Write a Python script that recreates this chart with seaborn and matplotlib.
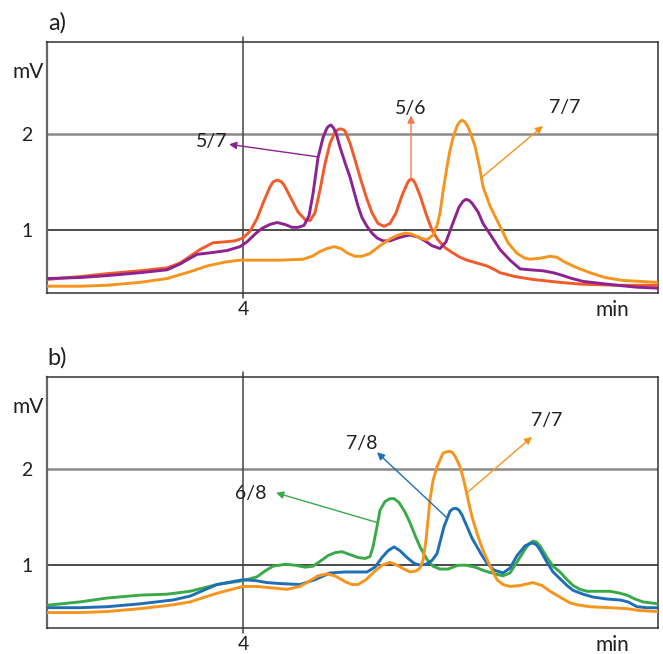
import matplotlib
matplotlib.use("Agg")
import matplotlib.pyplot as plt
import pandas as pd
import seaborn as sns

# ---- panel a) ----
t_56 = [2.04, 2.37, 2.64, 2.97, 3.24, 3.37, 3.47, 3.57, 3.70, 3.82, 3.92, 4.00, 4.07, 4.14, 4.20,
        4.27, 4.30, 4.34, 4.38, 4.41, 4.48, 4.55, 4.62, 4.67, 4.72, 4.77, 4.82, 4.87, 4.92, 4.945,
        4.97, 4.995, 5.02, 5.07, 5.12, 5.17, 5.23, 5.29, 5.35, 5.41, 5.47, 5.53, 5.59, 5.64, 5.66,
        5.68, 5.70, 5.72, 5.77, 5.83, 5.89, 5.95, 6.02, 6.09, 6.17, 6.24, 6.34, 6.44, 6.52, 6.57,
        6.72, 6.90, 7.17, 7.40, 7.77, 8.15]
mv_56 = [0.49, 0.52, 0.55, 0.58, 0.61, 0.66, 0.73, 0.80, 0.87, 0.88, 0.89, 0.92, 0.99, 1.12, 1.28,
         1.45, 1.50, 1.52, 1.505, 1.47, 1.33, 1.19, 1.11, 1.10, 1.18, 1.42, 1.69, 1.90, 2.02, 2.04,
         2.05, 2.045, 2.03, 1.90, 1.73, 1.55, 1.35, 1.18, 1.07, 1.04, 1.07, 1.18, 1.36, 1.48, 1.515,
         1.53, 1.52, 1.49, 1.36, 1.17, 1.00, 0.90, 0.82, 0.77, 0.72, 0.69, 0.66, 0.63, 0.59, 0.56,
         0.52, 0.49, 0.46, 0.44, 0.43, 0.43]

t_57 = [2.04, 2.37, 2.64, 2.97, 3.24, 3.37, 3.47, 3.54, 3.70, 3.84, 3.97, 4.04, 4.12, 4.19, 4.27,
        4.34, 4.42, 4.49, 4.55, 4.61, 4.66, 4.70, 4.75, 4.80, 4.84, 4.86, 4.88, 4.905, 4.93, 4.97,
        5.02, 5.07, 5.11, 5.15, 5.19, 5.24, 5.29, 5.34, 5.40, 5.47, 5.55, 5.62, 5.67, 5.75, 5.82,
        5.89, 5.97, 6.03, 6.09, 6.16, 6.20, 6.23, 6.26, 6.29, 6.35, 6.40, 6.47, 6.57, 6.67, 6.77,
        6.87, 7.00, 7.10, 7.17, 7.29, 7.40, 7.57, 7.74, 7.94, 8.15]
mv_57 = [0.50, 0.51, 0.53, 0.56, 0.59, 0.65, 0.71, 0.75, 0.77, 0.79, 0.83, 0.88, 0.96, 1.02, 1.06,
         1.08, 1.06, 1.03, 1.03, 1.05, 1.15, 1.38, 1.75, 1.96, 2.06, 2.08, 2.09, 2.06, 2.01, 1.86,
         1.70, 1.55, 1.40, 1.25, 1.13, 1.04, 0.97, 0.92, 0.89, 0.89, 0.92, 0.94, 0.95, 0.93, 0.89,
         0.84, 0.81, 0.88, 1.05, 1.24, 1.30, 1.32, 1.31, 1.28, 1.19, 1.07, 0.96, 0.80, 0.69, 0.60,
         0.59, 0.58, 0.56, 0.54, 0.50, 0.47, 0.45, 0.43, 0.41, 0.40]

t_77a = [2.04, 2.37, 2.64, 2.97, 3.24, 3.47, 3.64, 3.82, 3.97, 4.17, 4.37, 4.60, 4.69, 4.77, 4.84,
         4.91, 4.98, 5.05, 5.12, 5.19, 5.27, 5.37, 5.47, 5.55, 5.62, 5.69, 5.77, 5.84, 5.90, 5.94,
         5.97, 6.00, 6.04, 6.07, 6.10, 6.14, 6.165, 6.19, 6.22, 6.245, 6.27, 6.32, 6.37, 6.40, 6.47,
         6.57, 6.65, 6.74, 6.82, 6.87, 6.97, 7.07, 7.14, 7.20, 7.32, 7.47, 7.62, 7.80, 7.97, 8.15]
mv_77a = [0.42, 0.42, 0.43, 0.46, 0.50, 0.57, 0.63, 0.67, 0.69, 0.69, 0.69, 0.70, 0.73, 0.78, 0.81,
          0.83, 0.81, 0.76, 0.73, 0.73, 0.76, 0.84, 0.91, 0.95, 0.97, 0.96, 0.92, 0.90, 0.95, 1.05,
          1.18, 1.40, 1.66, 1.83, 1.96, 2.08, 2.12, 2.14, 2.12, 2.08, 2.02, 1.87, 1.63, 1.45, 1.25,
          1.04, 0.87, 0.76, 0.71, 0.70, 0.71, 0.73, 0.72, 0.68, 0.62, 0.56, 0.51, 0.48, 0.47, 0.46]

# ---- panel b) ----
t_68 = [2.04, 2.37, 2.64, 2.97, 3.24, 3.47, 3.74, 4.00, 4.14, 4.22, 4.30, 4.42, 4.52, 4.62, 4.70,
        4.77, 4.85, 4.92, 4.99, 5.07, 5.15, 5.22, 5.27, 5.30, 5.34, 5.37, 5.42, 5.47, 5.51, 5.56,
        5.62, 5.67, 5.72, 5.77, 5.84, 5.90, 5.97, 6.05, 6.15, 6.23, 6.32, 6.42, 6.52, 6.60, 6.67,
        6.75, 6.83, 6.865, 6.90, 6.935, 6.97, 7.04, 7.10, 7.17, 7.24, 7.30, 7.37, 7.44, 7.57, 7.67,
        7.77, 7.84, 7.92, 8.00, 8.15]
mv_68 = [0.585, 0.62, 0.66, 0.69, 0.70, 0.73, 0.80, 0.84, 0.88, 0.94, 0.99, 1.01, 1.00, 0.98, 0.99,
         1.04, 1.10, 1.13, 1.14, 1.11, 1.08, 1.07, 1.09, 1.19, 1.40, 1.57, 1.66, 1.69, 1.69, 1.65,
         1.55, 1.44, 1.31, 1.19, 1.06, 0.99, 0.96, 0.96, 1.00, 1.00, 0.98, 0.94, 0.91, 0.89, 0.92,
         1.05, 1.18, 1.225, 1.25, 1.24, 1.20, 1.08, 0.99, 0.93, 0.85, 0.79, 0.75, 0.73, 0.73, 0.73,
         0.71, 0.69, 0.65, 0.62, 0.60]

t_78 = [2.04, 2.37, 2.64, 2.97, 3.30, 3.47, 3.74, 4.00, 4.13, 4.24, 4.37, 4.57, 4.72, 4.87, 5.02,
        5.17, 5.24, 5.32, 5.39, 5.45, 5.51, 5.57, 5.64, 5.71, 5.77, 5.83, 5.89, 5.94, 6.01, 6.07,
        6.10, 6.13, 6.16, 6.19, 6.24, 6.29, 6.34, 6.39, 6.44, 6.51, 6.60, 6.67, 6.74, 6.82, 6.86,
        6.90, 6.935, 6.97, 7.04, 7.10, 7.17, 7.24, 7.30, 7.40, 7.50, 7.64, 7.77, 7.85, 7.94, 8.04,
        8.15]
mv_78 = [0.56, 0.56, 0.57, 0.60, 0.64, 0.68, 0.80, 0.85, 0.84, 0.82, 0.81, 0.80, 0.85, 0.92, 0.93,
         0.93, 0.93, 0.98, 1.08, 1.15, 1.19, 1.15, 1.08, 1.02, 1.00, 1.01, 1.05, 1.12, 1.40, 1.56,
         1.585, 1.59, 1.57, 1.52, 1.40, 1.28, 1.19, 1.10, 1.02, 0.95, 0.92, 0.97, 1.10, 1.20, 1.22,
         1.23, 1.21, 1.16, 1.03, 0.93, 0.86, 0.79, 0.74, 0.70, 0.67, 0.65, 0.64, 0.62, 0.57, 0.56,
         0.56]

t_77b = [2.04, 2.37, 2.64, 2.97, 3.30, 3.47, 3.74, 4.00, 4.13, 4.24, 4.44, 4.57, 4.67, 4.75, 4.84,
         4.92, 5.02, 5.09, 5.15, 5.23, 5.31, 5.39, 5.47, 5.54, 5.61, 5.67, 5.73, 5.77, 5.80, 5.83,
         5.87, 5.90, 5.94, 6.00, 6.035, 6.07, 6.095, 6.12, 6.17, 6.21, 6.25, 6.29, 6.34, 6.39, 6.44,
         6.49, 6.54, 6.60, 6.67, 6.77, 6.90, 6.99, 7.07, 7.17, 7.27, 7.34, 7.47, 7.67, 7.84, 7.97,
         8.15]
mv_77b = [0.51, 0.51, 0.52, 0.55, 0.59, 0.62, 0.71, 0.78, 0.78, 0.77, 0.75, 0.78, 0.84, 0.89, 0.91,
          0.89, 0.83, 0.80, 0.80, 0.85, 0.93, 1.00, 1.03, 1.00, 0.96, 0.93, 0.94, 0.97, 1.05, 1.26,
          1.68, 1.88, 2.02, 2.16, 2.175, 2.18, 2.165, 2.13, 2.02, 1.87, 1.68, 1.50, 1.33, 1.18, 1.06,
          0.95, 0.85, 0.80, 0.78, 0.79, 0.82, 0.79, 0.73, 0.67, 0.61, 0.59, 0.57, 0.56, 0.55, 0.53,
          0.52]

RED = "#f15a29"
PURPLE = "#8c2390"
ORANGE = "#f7941d"
GREEN = "#3aaa49"
BLUE = "#1f6fb6"
INK = "#231f20"


def long_df(series):
    frames = []
    for name, t, mv in series:
        frames.append(pd.DataFrame({"time": t, "mV": mv, "sample": name}))
    return pd.concat(frames, ignore_index=True)


def style_panel(ax, letter):
    ax.set_xlim(2.04, 8.15)
    ax.set_ylim(0.35, 2.95)
    ax.axhline(2, color="#8a8a8a", lw=1.8, zorder=1)
    ax.axhline(1, color="#1a1a1a", lw=1.1, zorder=1)
    ax.axvline(4, ymin=-0.02, ymax=1.02, color="#444444", lw=1.1, clip_on=False, zorder=1)
    ax.set_yticks([1, 2])
    ax.set_yticklabels(["1", "2"])
    ax.set_xticks([4])
    ax.set_xticklabels(["4"])
    ax.tick_params(axis="y", length=6, width=1.1, pad=4.5, labelsize=14, colors=INK)
    ax.tick_params(axis="x", length=0, pad=6, labelsize=14, colors=INK)
    ax.yaxis.get_major_ticks()[1].tick1line.set_color("#8a8a8a")
    for side in ["top", "bottom", "right"]:
        ax.spines[side].set_color("#333333")
        ax.spines[side].set_linewidth(1.1)
    ax.spines["left"].set_color("#666666")
    ax.spines["left"].set_linewidth(1.6)
    ax.set_xlabel("")
    ax.set_ylabel("")
    ax.text(-0.031, 0.88, "mV", transform=ax.transAxes, ha="center", va="center",
            fontsize=15, color=INK)
    ax.text(0.926, -0.066, "min", transform=ax.transAxes, ha="center", va="center",
            fontsize=15, color=INK)
    ax.text(0.016, 1.078, letter, transform=ax.transAxes, ha="center", va="center",
            fontsize=17, color=INK)


def label_arrow(ax, text, tail, head, text_pos, color):
    ax.annotate("", xy=head, xytext=tail,
                arrowprops=dict(arrowstyle="-|>", color=color, lw=1.0,
                                mutation_scale=11, shrinkA=0, shrinkB=0))
    ax.text(text_pos[0], text_pos[1], text, ha="center", va="center",
            fontsize=14, color=INK)


def main():
    sns.set_style("white")
    plt.rcParams["font.family"] = ["Lato", "DejaVu Sans"]

    fig = plt.figure(figsize=(6.63, 6.54), dpi=100)
    ax_a = fig.add_axes([0.0709, 0.5520, 0.9216, 0.3838])
    ax_b = fig.add_axes([0.0709, 0.0398, 0.9216, 0.3838])

    df_a = long_df([("5/6", t_56, mv_56), ("5/7", t_57, mv_57), ("7/7", t_77a, mv_77a)])
    sns.lineplot(data=df_a, x="time", y="mV", hue="sample",
                 palette={"5/6": RED, "5/7": PURPLE, "7/7": ORANGE},
                 estimator=None, sort=True, lw=2.1, legend=False, ax=ax_a, zorder=3,
                 solid_joinstyle="round", solid_capstyle="round")
    style_panel(ax_a, "a)")
    label_arrow(ax_a, "5/7", (4.75, 1.76), (3.86, 1.89), (3.69, 1.92), PURPLE)
    label_arrow(ax_a, "5/6", (5.68, 1.53), (5.68, 2.19), (5.68, 2.26), "#f47a4f")
    label_arrow(ax_a, "7/7", (6.39, 1.55), (7.00, 2.08), (7.22, 2.27), ORANGE)

    df_b = long_df([("6/8", t_68, mv_68), ("7/8", t_78, mv_78), ("7/7", t_77b, mv_77b)])
    sns.lineplot(data=df_b, x="time", y="mV", hue="sample",
                 palette={"6/8": GREEN, "7/8": BLUE, "7/7": ORANGE},
                 estimator=None, sort=True, lw=2.1, legend=False, ax=ax_b, zorder=3,
                 solid_joinstyle="round", solid_capstyle="round")
    style_panel(ax_b, "b)")
    label_arrow(ax_b, "6/8", (5.35, 1.44), (4.33, 1.75), (4.08, 1.74), GREEN)
    label_arrow(ax_b, "7/8", (6.04, 1.49), (5.34, 2.17), (5.19, 2.26), BLUE)
    label_arrow(ax_b, "7/7", (6.24, 1.75), (6.89, 2.33), (7.04, 2.50), ORANGE)

    fig.savefig("out.png", dpi=100)
    plt.close(fig)


if __name__ == "__main__":
    main()
